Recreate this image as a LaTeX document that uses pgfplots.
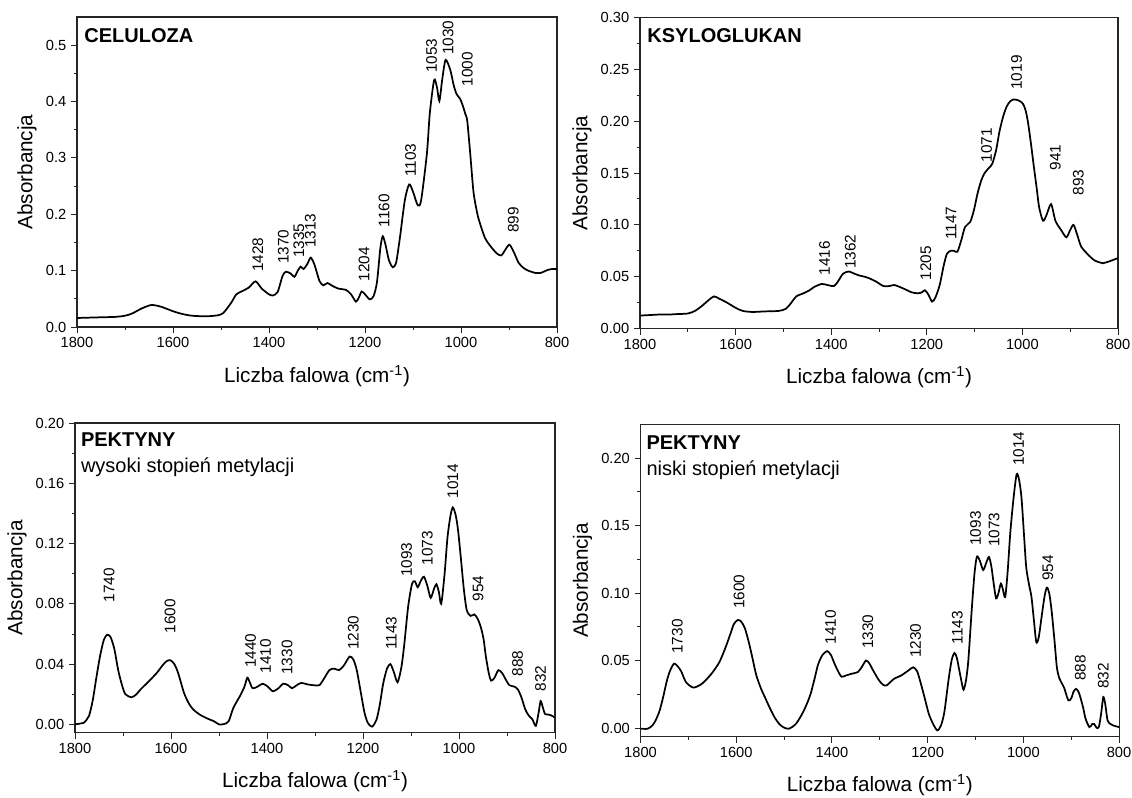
\documentclass[border=0pt]{standalone}
\usepackage{fontspec}
\setmainfont{Liberation Sans}
\usepackage{pgfplots}
\pgfplotsset{compat=1.18}

\pgfplotstableread{
w A
1800 0.016
1760 0.017
1720 0.018
1700 0.020
1685 0.024
1665 0.033
1645 0.039
1625 0.036
1600 0.028
1580 0.023
1560 0.020
1530 0.019
1505 0.021
1495 0.025
1490 0.030
1478 0.044
1468 0.058
1455 0.064
1442 0.070
1428 0.081
1415 0.068
1400 0.058
1392 0.056
1382 0.062
1372 0.090
1365 0.098
1355 0.095
1347 0.089
1340 0.100
1334 0.107
1328 0.103
1320 0.112
1313 0.123
1305 0.110
1295 0.082
1287 0.074
1278 0.078
1268 0.073
1255 0.068
1240 0.066
1229 0.058
1219 0.045
1213 0.052
1207 0.063
1200 0.058
1190 0.049
1182 0.055
1175 0.080
1168 0.140
1163 0.161
1157 0.145
1150 0.118
1142 0.106
1135 0.115
1127 0.160
1117 0.225
1108 0.253
1100 0.240
1090 0.216
1083 0.225
1071 0.308
1065 0.379
1056 0.438
1050 0.425
1045 0.401
1039 0.440
1032 0.474
1022 0.455
1015 0.428
1009 0.413
1002 0.405
996 0.392
991 0.378
987 0.366
981 0.310
974 0.240
967 0.205
962 0.188
950 0.158
940 0.145
926 0.131
916 0.127
907 0.138
899 0.146
890 0.133
880 0.114
870 0.105
860 0.100
845 0.096
834 0.096
820 0.101
810 0.103
800 0.103
}\celuloza

\pgfplotstableread{
w A
1800 0.0125
1780 0.0130
1760 0.0135
1740 0.0135
1720 0.0140
1700 0.0145
1685 0.017
1670 0.022
1655 0.028
1645 0.031
1635 0.029
1618 0.025
1600 0.020
1585 0.017
1565 0.016
1540 0.0165
1510 0.017
1495 0.019
1485 0.024
1473 0.031
1458 0.034
1445 0.037
1436 0.040
1420 0.043
1408 0.042
1394 0.041
1385 0.046
1375 0.053
1363 0.055
1352 0.053
1340 0.051
1330 0.050
1318 0.048
1305 0.045
1291 0.041
1278 0.041
1268 0.042
1256 0.040
1246 0.038
1232 0.035
1219 0.034
1210 0.035
1204 0.037
1197 0.033
1189 0.026
1182 0.030
1173 0.042
1165 0.060
1158 0.072
1150 0.075
1143 0.075
1136 0.074
1128 0.085
1120 0.098
1109 0.103
1101 0.115
1094 0.130
1086 0.143
1079 0.150
1070 0.155
1063 0.159
1055 0.172
1048 0.190
1040 0.205
1033 0.214
1026 0.219
1018 0.221
1008 0.220
999 0.217
993 0.210
988 0.198
982 0.178
976 0.156
970 0.135
965 0.117
957 0.104
950 0.109
940 0.120
931 0.104
919 0.095
908 0.088
900 0.095
893 0.100
885 0.090
877 0.079
862 0.071
850 0.066
840 0.064
832 0.063
817 0.065
800 0.068
}\ksyloglukan

\pgfplotstableread{
w A
1800 0.000
1790 0.0005
1782 0.001
1771 0.0055
1763 0.016
1756 0.030
1748 0.045
1740 0.056
1733 0.0595
1726 0.058
1718 0.050
1710 0.036
1702 0.026
1695 0.020
1682 0.018
1672 0.020
1664 0.023
1645 0.029
1630 0.034
1618 0.039
1609 0.042
1601 0.0425
1593 0.040
1585 0.034
1573 0.021
1563 0.014
1554 0.010
1540 0.0065
1525 0.004
1510 0.002
1500 0.000
1490 0.0002
1480 0.002
1470 0.011
1456 0.019
1447 0.025
1441 0.031
1436 0.028
1430 0.024
1420 0.025
1409 0.027
1398 0.025
1388 0.022
1376 0.024
1366 0.027
1356 0.026
1348 0.024
1338 0.026
1329 0.0275
1315 0.0265
1303 0.026
1291 0.026
1282 0.030
1270 0.036
1260 0.037
1250 0.036
1240 0.039
1228 0.045
1220 0.043
1213 0.036
1205 0.022
1197 0.008
1190 0.001
1181 -0.0015
1172 0.003
1165 0.013
1158 0.027
1150 0.037
1143 0.040
1136 0.035
1128 0.028
1120 0.038
1114 0.053
1106 0.078
1098 0.093
1092 0.095
1086 0.091
1080 0.095
1073 0.098
1066 0.092
1059 0.084
1052 0.090
1047 0.093
1042 0.088
1037 0.080
1030 0.100
1024 0.124
1018 0.138
1013 0.144
1007 0.139
1002 0.129
996 0.110
990 0.090
984 0.076
976 0.072
968 0.073
961 0.070
955 0.065
949 0.057
944 0.045
938 0.034
933 0.029
926 0.031
918 0.036
910 0.034
903 0.030
895 0.026
884 0.025
877 0.023
870 0.018
862 0.010
855 0.006
847 0.0033
840 -0.001
834 0.008
830 0.0155
826 0.012
821 0.007
815 0.0066
808 0.006
800 0.0045
}\pektwys

\pgfplotstableread{
w A
1800 -0.0005
1785 -0.0005
1775 0.002
1768 0.006
1760 0.013
1752 0.024
1745 0.035
1738 0.0427
1730 0.0477
1723 0.046
1715 0.042
1705 0.034
1690 0.030
1675 0.032
1665 0.035
1650 0.041
1635 0.049
1622 0.060
1612 0.070
1605 0.077
1597 0.080
1590 0.079
1582 0.074
1573 0.0625
1565 0.050
1558 0.039
1548 0.029
1539 0.022
1530 0.015
1520 0.008
1510 0.003
1501 0.0005
1490 -0.0005
1475 0.0032
1460 0.012
1450 0.020
1444 0.026
1436 0.037
1429 0.047
1420 0.054
1410 0.057
1402 0.054
1395 0.048
1387 0.042
1380 0.038
1370 0.039
1361 0.040
1346 0.0415
1338 0.045
1329 0.050
1322 0.048
1316 0.044
1308 0.039
1301 0.035
1293 0.032
1286 0.0315
1278 0.034
1270 0.0365
1255 0.039
1240 0.0427
1230 0.045
1222 0.042
1215 0.034
1206 0.022
1198 0.011
1190 0.004
1180 -0.0017
1172 0.002
1165 0.012
1157 0.034
1150 0.050
1144 0.0556
1139 0.052
1134 0.043
1129 0.034
1125 0.0284
1120 0.035
1115 0.050
1108 0.087
1102 0.115
1097 0.127
1091 0.124
1084 0.117
1078 0.122
1072 0.1267
1067 0.120
1062 0.107
1057 0.096
1052 0.100
1047 0.107
1043 0.103
1038 0.097
1033 0.115
1027 0.146
1020 0.172
1014 0.188
1009 0.184
1004 0.171
999 0.145
994 0.119
988 0.106
983 0.097
978 0.080
973 0.0637
968 0.067
962 0.082
956 0.097
951 0.104
946 0.100
941 0.087
935 0.065
930 0.045
925 0.037
921 0.034
915 0.030
906 0.0205
900 0.022
895 0.027
890 0.029
885 0.027
881 0.023
875 0.015
870 0.0069
862 0.0007
856 0.003
852 0.003
847 0.0002
842 0.001
837 0.012
833 0.023
829 0.018
824 0.0057
818 0.003
813 0.002
800 0.0007
}\pektnis

\pgfplotsset{
 ftir/.style={
  scale only axis,
  x dir=reverse, xmin=800, xmax=1800,
  xtick={800,1000,1200,1400,1600,1800},
  minor x tick num=1,
  minor y tick num=1,
  tick pos=left, tick align=outside,
  major tick length=4.5pt, minor tick length=2.5pt,
  every tick/.style={black!85, line width=0.7pt},
  axis line style={black!85, line width=0.8pt},
  tick label style={font=\fontsize{11}{12}\selectfont},
  label style={font=\fontsize{15.5}{18}\selectfont},
  xlabel={Liczba falowa (cm\textsuperscript{-1})},
  ylabel={Absorbancja},
  xlabel style={yshift=-6pt},
  /pgf/number format/assume math mode=true,
  x tick label style={/pgf/number format/1000 sep={}},
  clip mode=individual,
 },
}
\tikzset{
 curve/.style={black, line width=1.3pt, smooth, tension=0.45, mark=none},
 pk/.style={rotate=90, anchor=west, inner sep=1pt, font=\fontsize{11.5}{12}\selectfont},
 ttl/.style={anchor=north west, inner sep=0pt, align=left, font=\fontsize{15}{20}\selectfont},
}

\begin{document}
\begin{tikzpicture}
\path[use as bounding box] (0pt,0pt) rectangle (849pt,-597.75pt);

% Panel 1: CELULOZA
\begin{axis}[ftir,
  at={(57.75pt,-245.25pt)}, anchor=south west,
  width=360pt, height=232.5pt,
  ymin=0, ymax=0.55,
  ytick={0,0.1,0.2,0.3,0.4,0.5},
  y tick label style={/pgf/number format/.cd, fixed, fixed zerofill, precision=1},
]
\addplot[curve] table[x=w,y=A] {\celuloza};
\node[ttl] at (rel axis cs:0.015,0.965) {\textbf{CELULOZA}};
\node[pk] at (axis cs:1423,0.095) {1428};
\node[pk] at (axis cs:1370,0.109) {1370};
\node[pk] at (axis cs:1338,0.120) {1335};
\node[pk] at (axis cs:1314,0.138) {1313};
\node[pk] at (axis cs:1202,0.078) {1204};
\node[pk] at (axis cs:1160,0.174) {1160};
\node[pk] at (axis cs:1105,0.264) {1103};
\node[pk] at (axis cs:1061,0.448) {1053};
\node[pk] at (axis cs:1027,0.480) {1030};
\node[pk] at (axis cs:987,0.424) {1000};
\node[pk] at (axis cs:891,0.164) {899};
\end{axis}

% Panel 2: KSYLOGLUKAN
\begin{axis}[ftir,
  at={(480pt,-246.4pt)}, anchor=south west,
  width=358.5pt, height=233.25pt,
  ymin=0, ymax=0.30,
  ytick={0,0.05,0.10,0.15,0.20,0.25,0.30},
  y tick label style={/pgf/number format/.cd, fixed, fixed zerofill, precision=2},
]
\addplot[curve] table[x=w,y=A] {\ksyloglukan};
\node[ttl] at (rel axis cs:0.015,0.965) {\textbf{KSYLOGLUKAN}};
\node[pk] at (axis cs:1414,0.050) {1416};
\node[pk] at (axis cs:1360,0.056) {1362};
\node[pk] at (axis cs:1202,0.045) {1205};
\node[pk] at (axis cs:1149,0.084) {1147};
\node[pk] at (axis cs:1075,0.159) {1071};
\node[pk] at (axis cs:1012,0.229) {1019};
\node[pk] at (axis cs:931,0.151) {941};
\node[pk] at (axis cs:883,0.127) {893};
\end{axis}

% Panel 3: PEKTYNY wysoki
\begin{axis}[ftir,
  at={(56.25pt,-549.5pt)}, anchor=south west,
  width=360pt, height=232.25pt,
  ymin=-0.0055, ymax=0.20,
  ytick={0,0.04,0.08,0.12,0.16,0.20},
  y tick label style={/pgf/number format/.cd, fixed, fixed zerofill, precision=2},
]
\addplot[curve] table[x=w,y=A] {\pektwys};
\node[ttl] at (rel axis cs:0.012,0.97) {\textbf{PEKTYNY}\\wysoki stopień metylacji};
\node[pk] at (axis cs:1729,0.080) {1740};
\node[pk] at (axis cs:1602,0.0595) {1600};
\node[pk] at (axis cs:1434,0.0364) {1440};
\node[pk] at (axis cs:1403,0.033) {1410};
\node[pk] at (axis cs:1358,0.032) {1330};
\node[pk] at (axis cs:1220,0.0485) {1230};
\node[pk] at (axis cs:1141,0.0485) {1143};
\node[pk] at (axis cs:1109,0.097) {1093};
\node[pk] at (axis cs:1066,0.1046) {1073};
\node[pk] at (axis cs:1013,0.149) {1014};
\node[pk] at (axis cs:960,0.0805) {954};
\node[pk] at (axis cs:878,0.031) {888};
\node[pk] at (axis cs:830,0.021) {832};
\end{axis}

% Panel 4: PEKTYNY niski
\begin{axis}[ftir,
  at={(480.4pt,-552.4pt)}, anchor=south west,
  width=358.9pt, height=234.2pt,
  ymin=-0.0063, ymax=0.225,
  ytick={0,0.05,0.10,0.15,0.20},
  y tick label style={/pgf/number format/.cd, fixed, fixed zerofill, precision=2},
]
\addplot[curve] table[x=w,y=A] {\pektnis};
\node[ttl] at (rel axis cs:0.012,0.965) {\textbf{PEKTYNY}\\niski stopień metylacji};
\node[pk] at (axis cs:1723,0.054) {1730};
\node[pk] at (axis cs:1594,0.087) {1600};
\node[pk] at (axis cs:1403,0.061) {1410};
\node[pk] at (axis cs:1325,0.0575) {1330};
\node[pk] at (axis cs:1225,0.051) {1230};
\node[pk] at (axis cs:1138,0.061) {1143};
\node[pk] at (axis cs:1100,0.134) {1093};
\node[pk] at (axis cs:1061,0.133) {1073};
\node[pk] at (axis cs:1010,0.193) {1014};
\node[pk] at (axis cs:949,0.108) {954};
\node[pk] at (axis cs:881,0.034) {888};
\node[pk] at (axis cs:833,0.028) {832};
\end{axis}
\end{tikzpicture}
\end{document}
